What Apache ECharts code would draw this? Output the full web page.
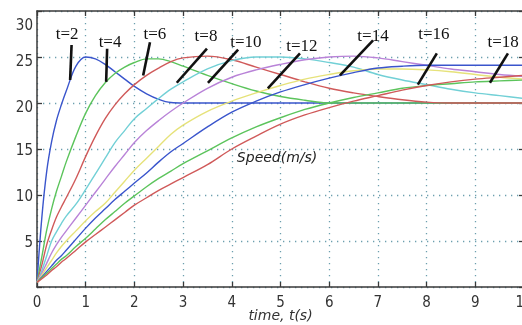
<!DOCTYPE html>
<html>
<head>
<meta charset="utf-8">
<script src="https://cdn.jsdelivr.net/npm/echarts@6/dist/echarts.min.js"></script>
<style>html,body{margin:0;padding:0;background:#fff;}#c{width:522px;height:325px;}</style>
</head>
<body>
<div id="c"></div>
<script>
// time samples (s)
const time = [0, 0.1, 0.2, 0.3, 0.4, 0.5, 0.6, 0.8, 1.0, 1.2, 1.4, 1.6, 1.8, 2.0, 2.25, 2.5, 2.75, 3.0, 3.5, 4.0, 4.5, 5.0, 5.5, 6.0, 6.5, 7.0, 7.5, 8.0, 8.5, 9.0, 9.5, 10.0];
// speed (m/s) for each t parameter
const speedT2  = [0.5, 7.6, 12.6, 15.8, 18.1, 19.8, 21.3, 24.0, 25.0, 24.8, 24.2, 23.4, 22.6, 21.8, 21.0, 20.4, 20.05, 20.0, 20, 20, 20, 20, 20, 20, 20, 20, 20, 20, 20, 20, 20, 20];
const speedT4  = [0.5, 3.3, 6.2, 8.5, 10.4, 12.0, 13.6, 16.4, 18.9, 20.8, 22.2, 23.2, 23.9, 24.4, 24.8, 24.8, 24.5, 24.0, 23.0, 22.1, 21.3, 20.7, 20.3, 20.0, 20, 20, 20, 20, 20, 20, 20, 20];
const speedT6  = [0.5, 2.4, 4.6, 6.2, 7.6, 8.7, 9.7, 11.8, 14.2, 16.4, 18.3, 19.8, 21.0, 22.0, 23.0, 23.8, 24.5, 24.9, 25.1, 24.7, 23.9, 23.1, 22.3, 21.6, 21.1, 20.7, 20.35, 20.1, 20.0, 20, 20, 20];
const speedT8  = [0.5, 1.8, 3.4, 5.0, 6.0, 6.9, 7.7, 9.0, 10.6, 12.3, 14.0, 15.7, 17.0, 18.3, 19.4, 20.5, 21.5, 22.3, 23.7, 24.6, 25.0, 25.0, 24.8, 24.4, 23.9, 23.1, 22.5, 22.0, 21.5, 21.1, 20.8, 20.5];
const speedT10 = [0.5, 1.5, 2.6, 3.7, 4.6, 5.4, 6.1, 7.5, 8.9, 10.3, 11.7, 13.1, 14.4, 15.7, 17.0, 18.1, 19.1, 20.0, 21.6, 22.8, 23.6, 24.2, 24.7, 25.0, 25.1, 24.9, 24.5, 24.1, 23.7, 23.4, 23.1, 22.9];
const speedT12 = [0.5, 1.3, 2.1, 2.9, 3.7, 4.4, 5.0, 6.1, 7.2, 8.2, 9.1, 10.3, 11.5, 12.7, 14.0, 15.3, 16.6, 17.6, 19.1, 20.2, 21.1, 21.9, 22.6, 23.1, 23.5, 23.7, 23.7, 23.6, 23.4, 23.1, 22.8, 22.6];
const speedT14 = [0.5, 1.1, 1.7, 2.3, 2.9, 3.4, 4.0, 5.2, 6.4, 7.5, 8.5, 9.5, 10.4, 11.3, 12.4, 13.6, 14.7, 15.6, 17.4, 19.0, 20.2, 21.2, 22.0, 22.7, 23.3, 23.8, 24.0, 24.1, 24.1, 24.1, 24.1, 24.1];
const speedT16 = [0.5, 1.0, 1.5, 2.0, 2.5, 3.0, 3.4, 4.4, 5.3, 6.3, 7.3, 8.2, 9.1, 9.9, 10.9, 11.8, 12.6, 13.4, 14.8, 16.2, 17.4, 18.4, 19.3, 20.0, 20.6, 21.1, 21.6, 21.9, 22.1, 22.3, 22.4, 22.5];
const speedT18 = [0.5, 0.9, 1.3, 1.8, 2.2, 2.7, 3.1, 4.0, 4.9, 5.7, 6.5, 7.3, 8.1, 8.9, 9.7, 10.5, 11.2, 11.9, 13.3, 15.0, 16.4, 17.7, 18.7, 19.5, 20.2, 20.8, 21.4, 21.9, 22.3, 22.6, 22.8, 23.0];
const seriesValues = [speedT2, speedT4, speedT6, speedT8, speedT10, speedT12, speedT14, speedT16, speedT18];
const seriesNames = ['t=2', 't=4', 't=6', 't=8', 't=10', 't=12', 't=14', 't=16', 't=18'];
// annotation anchors in data coordinates [time, speed]
const labelAt   = [[0.62,27.4],[1.5,26.6],[2.42,27.4],[3.47,27.2],[4.29,26.6],[5.44,26.1],[6.9,27.2],[8.15,27.4],[9.57,26.6]];
const pointerFrom = [[0.71,26.3],[1.44,25.9],[2.32,26.6],[3.49,25.9],[4.13,25.8],[5.4,25.4],[6.9,26.8],[8.21,25.4],[9.67,25.4]];
const pointerTo   = [[0.68,22.5],[1.42,22.3],[2.18,23.0],[2.87,22.2],[3.51,22.2],[4.74,21.6],[6.22,23.0],[7.82,22.0],[9.3,22.2]];
// axis ticks
const xTicks = {min: 0, max: 10, interval: 1};
const yTicks = {min: 0, max: 30, interval: 5};

const colors = ['#3a55cc', '#5cc45c', '#d05a5a', '#72d0d6', '#b983d8', '#e6e27a', '#3a55cc', '#5cc45c', '#d05a5a'];
const gridDots = {color: '#6c9fae', width: 1.3, type: [1.3, 4.7]};
const frameLine = {color: '#3a3a3a', width: 1.5};
const tickStyle = {show: true, inside: true, length: 5, lineStyle: {color: '#3a3a3a', width: 1.3}};
const tickFont = "'DejaVu Sans Condensed', 'DejaVu Sans'";

const chart = echarts.init(document.getElementById('c'), null, {renderer: 'canvas'});
const series = seriesValues.map((vals, i) => ({
  type: 'line',
  name: seriesNames[i],
  data: time.map((t, k) => [t, vals[k]]),
  xAxisIndex: 0, yAxisIndex: 0,
  smooth: 0.35,
  showSymbol: false,
  lineStyle: {color: colors[i], width: 1.4},
  itemStyle: {color: colors[i]},
  z: 3,
  markLine: {
    silent: true, symbol: 'none', animation: false,
    lineStyle: {color: '#111', width: 2.6, type: 'solid'},
    label: {show: false},
    data: [[{coord: pointerFrom[i]}, {coord: pointerTo[i]}]]
  },
  markPoint: {
    silent: true, animation: false, symbol: 'circle', symbolSize: 0,
    label: {show: true, position: 'inside', formatter: seriesNames[i], color: '#111',
            fontFamily: 'Liberation Serif', fontSize: 17},
    data: [{coord: labelAt[i]}]
  }
}));

chart.setOption({
  animation: false,
  backgroundColor: '#fff',
  grid: {left: 37, top: 11, right: -2, bottom: 38, show: false, containLabel: false, outerBoundsMode: 'none'},
  xAxis: [{
    type: 'value', min: xTicks.min, max: xTicks.max, interval: xTicks.interval,
    position: 'bottom',
    axisLine: {show: true, onZero: false, lineStyle: frameLine},
    axisTick: tickStyle,
    axisLabel: {color: '#333', fontFamily: tickFont, fontSize: 15, margin: 9, hideOverlap: false},
    splitLine: {show: true, lineStyle: gridDots},
    name: 'time, t(s)', nameLocation: 'middle', nameGap: 22, nameMoveOverlap: false,
    nameTextStyle: {color: '#333', fontFamily: 'DejaVu Sans', fontStyle: 'italic', fontSize: 14, verticalAlign: 'top'}
  }, {
    type: 'value', min: xTicks.min, max: xTicks.max, interval: xTicks.interval,
    position: 'top',
    axisLine: {show: true, onZero: false, lineStyle: frameLine},
    axisTick: tickStyle,
    axisLabel: {show: false}, splitLine: {show: false}
  }],
  yAxis: [{
    type: 'value', min: yTicks.min, max: yTicks.max, interval: yTicks.interval,
    position: 'left',
    axisLine: {show: true, onZero: false, lineStyle: frameLine},
    axisTick: tickStyle,
    axisLabel: {
      color: '#333', fontFamily: tickFont, fontSize: 15, margin: 4,
      formatter: v => v === 0 ? '' : (v === 30 ? '{a|' + v + '}' : (v >= 20 ? '{b|' + v + '}' : '{c|' + v + '}')),
      rich: {
        a: {padding: [30, 0, 0, 0], fontFamily: tickFont, fontSize: 15, color: '#333'},
        b: {padding: [11, 0, 0, 0], fontFamily: tickFont, fontSize: 15, color: '#333'},
        c: {padding: [4, 0, 0, 0], fontFamily: tickFont, fontSize: 15, color: '#333'}
      }
    },
    splitLine: {show: true, lineStyle: gridDots}
  }, {
    type: 'value', min: yTicks.min, max: yTicks.max, interval: yTicks.interval,
    position: 'right',
    axisLine: {show: true, onZero: false, lineStyle: frameLine},
    axisTick: tickStyle,
    axisLabel: {show: false}, splitLine: {show: false}
  }],
  series: series
});

// in-plot quantity label, positioned in data coordinates
const speedLabelAt = [4.93, 14.0];
const p = chart.convertToPixel({xAxisIndex: 0, yAxisIndex: 0}, speedLabelAt);
chart.setOption({
  graphic: [{
    type: 'text', x: p[0], y: p[1], z: 10, silent: true,
    style: {text: 'Speed(m/s)', fill: '#222', font: 'italic 14px "DejaVu Sans"', textAlign: 'center', textVerticalAlign: 'middle'}
  }]
});
</script>
</body>
</html>
